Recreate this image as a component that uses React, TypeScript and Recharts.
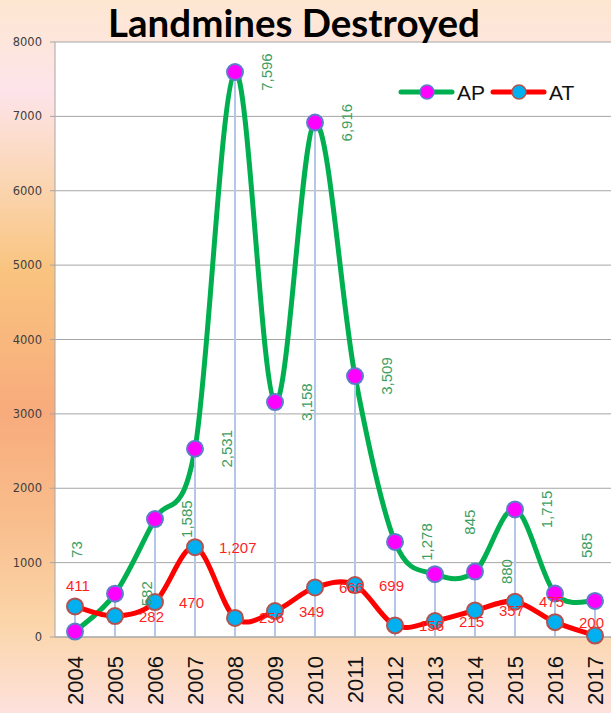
import { ComposedChart, Line, Bar, XAxis, YAxis, CartesianGrid, LabelList } from 'recharts';

const years = ['2004', '2005', '2006', '2007', '2008', '2009', '2010', '2011', '2012', '2013', '2014', '2015', '2016', '2017'];
const apValues = [73, 582, 1585, 2531, 7596, 3158, 6916, 3509, 1278, 845, 880, 1715, 585, 485];
const atValues = [411, 282, 470, 1207, 256, 349, 666, 699, 156, 215, 357, 475, 200, 20];
const yTicks = [0, 1000, 2000, 3000, 4000, 5000, 6000, 7000, 8000];
const seriesNames = ['AP', 'AT'];

const data = years.map((year, i) => ({
  year,
  AP: apValues[i],
  AT: atValues[i],
  drop: Math.max(apValues[i], atValues[i]),
}));

// excel-like smoothing (catmull-rom through every point)
function smoothCurve(context: any) {
  let pts: [number, number][] = [];
  return {
    areaStart() {},
    areaEnd() {},
    lineStart() {
      pts = [];
    },
    lineEnd() {
      if (!pts.length) return;
      context.moveTo(pts[0][0], pts[0][1]);
      for (let i = 0; i < pts.length - 1; i++) {
        const p0 = pts[i - 1] || pts[i];
        const p1 = pts[i];
        const p2 = pts[i + 1];
        const p3 = pts[i + 2] || p2;
        context.bezierCurveTo(
          p1[0] + (p2[0] - p0[0]) / 6,
          p1[1] + (p2[1] - p0[1]) / 6,
          p2[0] - (p3[0] - p1[0]) / 6,
          p2[1] - (p3[1] - p1[1]) / 6,
          p2[0],
          p2[1]
        );
      }
    },
    point(x: number, y: number) {
      pts.push([x, y]);
    },
  };
}

const fmt = (v: number) => v.toLocaleString('en-US');
const lastYear = years[years.length - 1];

// labels that were dragged around in the original
const apNudge: Record<string, [number, number]> = {
  '2004': [2, -82],
  '2013': [35, -52],
  '2016': [32, -48],
};
const atNudge: Record<string, [number, number]> = {
  '2004': [-9, -21],
};

const ApLabel = (props: any) => {
  const { x, y, value, index } = props;
  if (years[index] === lastYear) return null; // falls outside the chart in the original
  const [dx, dy] = apNudge[years[index]] || [32, 0];
  const cx = x + dx;
  const cy = y + dy;
  return (
    <text
      x={cx}
      y={cy}
      transform={`rotate(-90, ${cx}, ${cy})`}
      textAnchor="middle"
      dominantBaseline="central"
      fontFamily="Liberation Sans, Arial, sans-serif"
      fontSize={15}
      fill="#3d9e62"
    >
      {fmt(value)}
    </text>
  );
};

const AtLabel = (props: any) => {
  const { x, y, value, index } = props;
  if (years[index] === lastYear) return null;
  const [dx, dy] = atNudge[years[index]] || [24, 0];
  return (
    <text
      x={x + dx}
      y={y + dy}
      textAnchor="start"
      dominantBaseline="central"
      fontFamily="Liberation Sans, Arial, sans-serif"
      fontSize={15}
      fill="#ff1f1f"
    >
      {fmt(value)}
    </text>
  );
};

const YearTick = (props: any) => {
  const { x, y, payload } = props;
  return (
    <g transform={`translate(${x},${y})`}>
      <text
        transform="rotate(-90)"
        textAnchor="end"
        dominantBaseline="central"
        fontFamily="Liberation Sans, Arial, sans-serif"
        fontSize={22}
        fill="#111"
      >
        {payload.value}
      </text>
    </g>
  );
};

export default function App() {
  return (
    <div
      style={{
        position: 'absolute',
        left: 0,
        top: 0,
        width: 611,
        height: 713,
        overflow: 'hidden',
        background:
          'linear-gradient(to bottom, #fde7d0 0px, #fde4ea 90px, #fbd6b4 180px, #f9c47f 270px, #f8ab7c 410px, #f9bd8c 520px, #fbd5a8 620px, #fde1dc 713px)',
      }}
    >
      <ComposedChart width={615} height={713} data={data} margin={{ top: 42, right: 0, bottom: 0, left: 0 }}>
        <CartesianGrid vertical={false} stroke="#a6a6a6" fill="#ffffff" />
        <XAxis
          dataKey="year"
          height={76}
          interval={0}
          axisLine={{ stroke: '#a6a6a6' }}
          tickLine={false}
          tickSize={0}
          tickMargin={19}
          tick={<YearTick />}
        />
        <YAxis
          width={55}
          domain={[0, 8000]}
          ticks={yTicks}
          interval={0}
          axisLine={{ stroke: '#a6a6a6' }}
          tickLine={{ stroke: '#a6a6a6' }}
          tickSize={5}
          tickMargin={8}
          tick={{ fontFamily: 'DejaVu Sans, sans-serif', fontSize: 11.5, fill: '#404040' }}
        />
        <Line
          dataKey="AP"
          type={smoothCurve as any}
          stroke="#00b050"
          strokeWidth={5}
          dot={{ r: 8, fill: '#ff00ff', stroke: '#5b7fc7', strokeWidth: 2 }}
          activeDot={false}
          isAnimationActive={false}
        >
          <LabelList dataKey="AP" content={<ApLabel />} />
        </Line>
        <Line
          dataKey="AT"
          type={smoothCurve as any}
          stroke="#ff0000"
          strokeWidth={5}
          dot={{ r: 8, fill: '#00b0f0', stroke: '#b5524f', strokeWidth: 2 }}
          activeDot={false}
          isAnimationActive={false}
        >
          <LabelList dataKey="AT" content={<AtLabel />} />
        </Line>
        {/* drop lines */}
        <Bar dataKey="drop" barSize={2} fill="#b4c7e7" isAnimationActive={false} zIndex={450} />
      </ComposedChart>

      <svg width={611} height={713} style={{ position: 'absolute', left: 0, top: 0, pointerEvents: 'none' }}>
        <text
          x={294}
          y={37}
          textAnchor="middle"
          fontFamily="Lato, sans-serif"
          fontWeight="bold"
          fontSize={38.5}
          fill="#000"
        >
          Landmines Destroyed
        </text>

        {/* legend */}
        <line x1={401} y1={92} x2={452} y2={92} stroke="#00b050" strokeWidth={5} strokeLinecap="round" />
        <circle cx={427} cy={92} r={7} fill="#ff00ff" stroke="#5b7fc7" strokeWidth={1.5} />
        <text x={457} y={92} dominantBaseline="central" fontFamily="Liberation Sans, Arial, sans-serif" fontSize={21} fill="#111">
          {seriesNames[0]}
        </text>
        <line x1={493} y1={92} x2={544} y2={92} stroke="#ff0000" strokeWidth={5} strokeLinecap="round" />
        <circle cx={519} cy={92} r={7} fill="#00b0f0" stroke="#b5524f" strokeWidth={1.5} />
        <text x={549} y={92} dominantBaseline="central" fontFamily="Liberation Sans, Arial, sans-serif" fontSize={21} fill="#111">
          {seriesNames[1]}
        </text>
      </svg>
    </div>
  );
}
